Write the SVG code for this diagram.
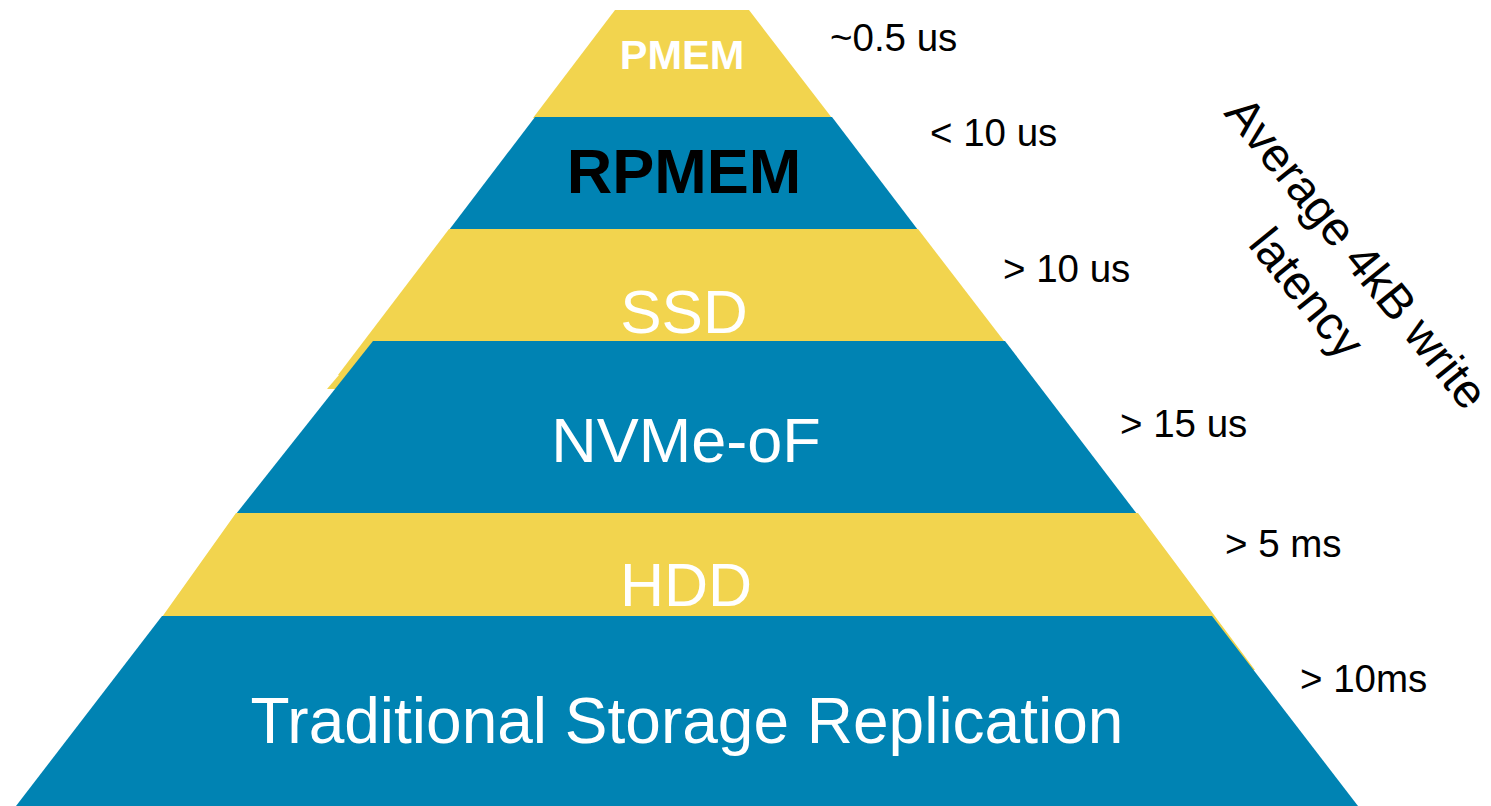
<svg xmlns="http://www.w3.org/2000/svg" width="1491" height="806" viewBox="0 0 1491 806">
<style>
.y{fill:#F2D44E}
.b{fill:#0083B3}
.lbl{font-family:"Liberation Sans",Arial,sans-serif;text-anchor:middle}
.w{fill:#FFFFFF}
.lat{font-family:"Liberation Sans",Arial,sans-serif;font-size:38.5px;fill:#000000}
</style>
<rect x="0" y="0" width="1491" height="806" fill="#FFFFFF"/>
<g id="layer-pmem">
<polygon class="y" points="615,10 749,10 832,118 533,118"/>
<text class="lbl w" x="682" y="69" font-size="41.5" font-weight="bold">PMEM</text>
</g>
<g id="layer-rpmem">
<polygon class="b" points="535,117 832,117 918,230 449,230"/>
<text class="lbl" x="684" y="193" font-size="63" font-weight="bold" fill="#000000">RPMEM</text>
</g>
<g id="layer-ssd">
<polygon class="y" points="449,229 918,229 1030,375 338,375"/>
<polygon class="y" points="368,341 327,389 340,389 375,341"/>
<text class="lbl w" x="684" y="333" font-size="62">SSD</text>
</g>
<g id="layer-nvme">
<polygon class="b" points="373,341 1005,341 1137,514 236,514"/>
<text class="lbl w" x="686" y="462" font-size="63">NVMe-oF</text>
</g>
<g id="layer-hdd">
<polygon class="y" points="236,513 1138,513 1255,670 1230,670 220,617 162,617"/>
<text class="lbl w" x="686" y="606" font-size="61">HDD</text>
</g>
<g id="layer-traditional">
<polygon class="b" points="162,616 1212,616 1358,806 16,806"/>
<text class="lbl w" x="687" y="743" font-size="64">Traditional Storage Replication</text>
</g>
<g id="latency-labels">
<text class="lat" x="830" y="51">~0.5 us</text>
<text class="lat" x="930" y="146">&lt; 10 us</text>
<text class="lat" x="1003" y="282">&gt; 10 us</text>
<text class="lat" x="1120" y="437">&gt; 15 us</text>
<text class="lat" x="1225" y="557">&gt; 5 ms</text>
<text class="lat" x="1300" y="692">&gt; 10ms</text>
</g>
<g id="axis-title" transform="translate(1344,263) rotate(51)">
<text class="lbl" x="0" y="0" font-size="47.5" fill="#000000">Average 4kB write</text>
<text class="lbl" x="0" y="64" font-size="47.5" fill="#000000">latency</text>
</g>
</svg>
